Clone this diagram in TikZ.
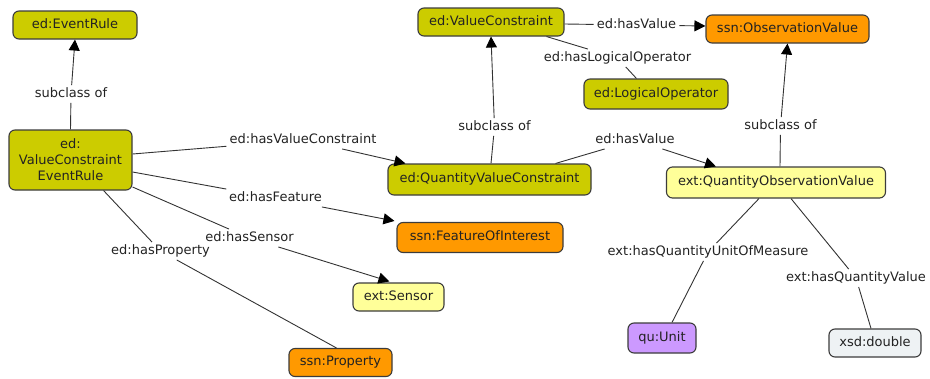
\documentclass[tikz,border=0pt]{standalone}
\usepackage{fontspec}
\setmainfont{DejaVu Sans}
\usetikzlibrary{arrows.meta}

\definecolor{cmolive}{RGB}{204,204,0}
\definecolor{cmorange}{RGB}{255,153,0}
\definecolor{cmlight}{RGB}{255,255,153}
\definecolor{cmpurple}{RGB}{204,153,255}
\definecolor{cmgrey}{RGB}{238,242,244}
\definecolor{cmedge}{RGB}{60,60,60}
\definecolor{cmline}{RGB}{51,51,51}
\definecolor{cmtext}{RGB}{34,34,34}

\begin{document}
\begin{tikzpicture}[x=1pt,y=-1pt,
  font=\fontsize{13}{16}\selectfont,
  concept/.style={draw=cmedge, line width=1.1pt, rounded corners=6pt,
    inner sep=0pt, text=cmtext, align=center},
  single/.style={text height=9.5pt, text depth=3pt},
  olivebox/.style={concept, single, fill=cmolive},
  orangebox/.style={concept, single, fill=cmorange},
  lightbox/.style={concept, single, fill=cmlight},
  lbl/.style={inner xsep=3pt, inner ysep=2.5pt, text height=9.5pt,
    text depth=3pt, text=cmtext},
  link/.style={draw=cmline, line width=0.9pt},
  arr/.style={link, -{Triangle[length=11pt,width=11pt,color=black]}}]
\useasboundingbox (0,0) rectangle (930,378);

% concepts
\node[olivebox, minimum width=124pt, minimum height=28pt] (er) at (75,25) {ed:EventRule};
\node[concept, fill=cmolive, minimum width=123pt, minimum height=60pt] (vcer) at (70.5,160)
  {ed:\\ValueConstraint\\EventRule};
\node[olivebox, minimum width=146pt, minimum height=28pt] (vc) at (491,22) {ed:ValueConstraint};
\node[orangebox, minimum width=163pt, minimum height=28pt] (ov) at (787.5,29) {ssn:ObservationValue};
\node[olivebox, minimum width=144pt, minimum height=30pt] (lo) at (656,94) {ed:LogicalOperator};
\node[olivebox, minimum width=203pt, minimum height=31pt] (qvc) at (489.5,179.5) {ed:QuantityValueConstraint};
\node[lightbox, minimum width=219pt, minimum height=31pt] (qov) at (776,182.5) {ext:QuantityObservationValue};
\node[orangebox, minimum width=166pt, minimum height=30pt] (foi) at (480,237.5) {ssn:FeatureOfInterest};
\node[lightbox, minimum width=91pt, minimum height=28pt] (sensor) at (398.5,297) {ext:Sensor};
\node[orangebox, minimum width=103pt, minimum height=28pt] (prop) at (340.5,362.5) {ssn:Property};
\node[concept, single, fill=cmpurple, minimum width=68pt, minimum height=30pt] (unit) at (662,338) {qu:Unit};
\node[concept, single, fill=cmgrey, minimum width=92pt, minimum height=28pt] (dbl) at (875,343) {xsd:double};

% link labels
\node[lbl] (sc1) at (71,94) {subclass of};
\node[lbl] (hvc) at (303,140) {ed:hasValueConstraint};
\node[lbl] (hf) at (275.5,198) {ed:hasFeature};
\node[lbl] (hs) at (249.5,238) {ed:hasSensor};
\node[lbl] (hp) at (160.5,251) {ed:hasProperty};
\node[lbl] (hv1) at (636.5,25) {ed:hasValue};
\node[lbl] (hlo) at (617.5,58) {ed:hasLogicalOperator};
\node[lbl] (sc2) at (494.5,127) {subclass of};
\node[lbl] (hv2) at (635,140) {ed:hasValue};
\node[lbl] (sc3) at (780.5,126) {subclass of};
\node[lbl] (hqu) at (708,252) {ext:hasQuantityUnitOfMeasure};
\node[lbl] (hqv) at (856,278) {ext:hasQuantityValue};

% links
\draw[link] (vcer.north) -- (sc1);
\draw[arr] (sc1) -- (er.south);

\draw[link] ([yshift=6pt]vcer.east) -- (hvc);
\draw[arr] (hvc) -- ([xshift=18pt]qvc.north west);

\draw[link] ([yshift=-12pt]vcer.east) -- (hf);
\draw[arr] (hf) -- ([xshift=-2pt,yshift=1pt]foi.north west);

\draw[link] ([yshift=-27pt]vcer.east) -- (hs);
\draw[arr] (hs) -- ([xshift=37pt,yshift=1pt]sensor.north west);

\draw[link] ([xshift=-29pt]vcer.south east) -- (hp);
\draw[link] (hp) -- ([xshift=48pt]prop.north west);

\draw[link] ([yshift=-2pt]vc.east) -- (hv1);
\draw[arr] (hv1) -- ([yshift=3pt]ov.west);

\draw[link] ([xshift=-18pt]vc.south east) -- (hlo);
\draw[link] (hlo) -- ([xshift=53pt]lo.north west);

\draw[link] ([xshift=1.5pt]qvc.north) -- (sc2);
\draw[arr] (sc2) -- (vc.south);

\draw[link] ([xshift=-36pt]qvc.north east) -- (hv2);
\draw[arr] (hv2) -- ([xshift=50pt]qov.north west);

\draw[link] ([xshift=4pt]qov.north) -- (sc3);
\draw[arr] (sc3) -- (ov.south);

\draw[link] ([xshift=-17pt]qov.south) -- (hqu);
\draw[link] (hqu) -- ([xshift=10pt]unit.north);

\draw[link] ([xshift=15pt]qov.south) -- (hqv);
\draw[link] (hqv) -- ([xshift=-4pt]dbl.north);
\end{tikzpicture}
\end{document}
